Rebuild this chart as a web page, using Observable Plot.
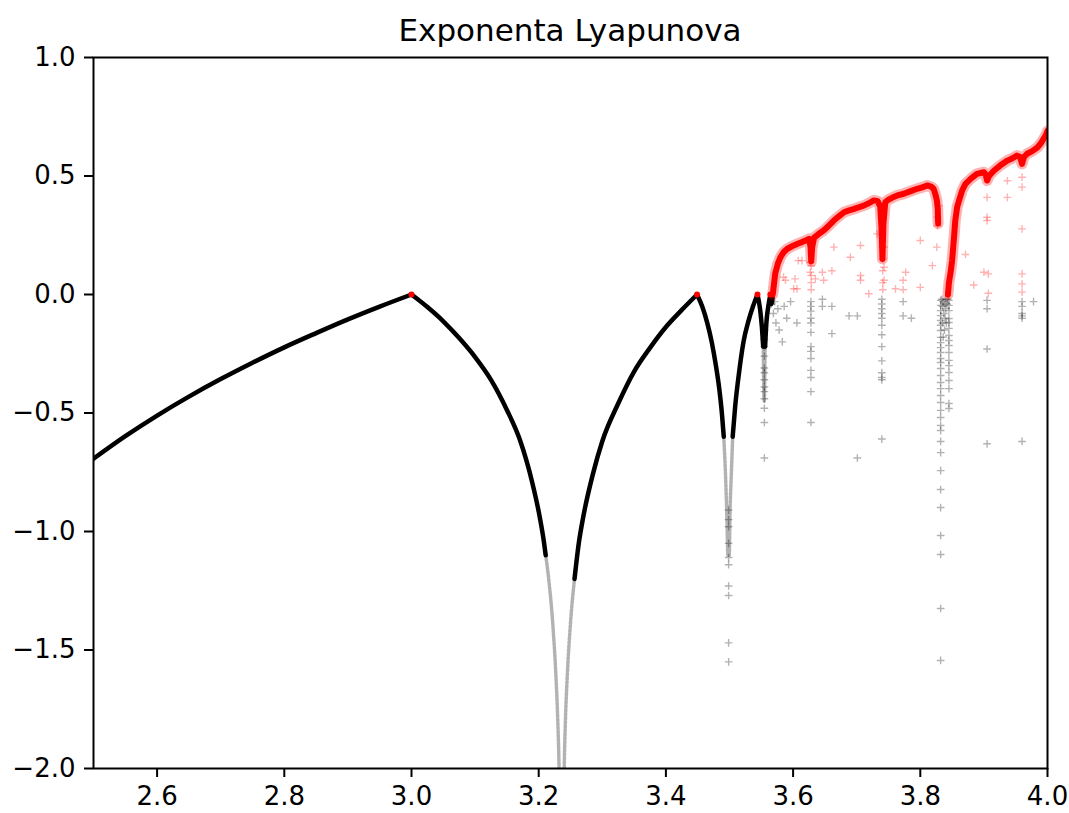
<!DOCTYPE html>
<html><head><meta charset="utf-8">
<script src="https://cdn.jsdelivr.net/npm/d3@7"></script>
<script src="https://cdn.jsdelivr.net/npm/@observablehq/plot@0.6"></script>
<style>
body{margin:0;background:#fff;}
#title{box-sizing:border-box;width:954px;margin-left:93px;height:45px;padding-top:12px;line-height:36px;text-align:center;font-family:"DejaVu Sans",sans-serif;font-size:31px;color:#000;white-space:nowrap;}
#chart svg g[aria-label*="tick"] path, #chart svg g.tick line{stroke-width:2px;}
</style></head><body>
<div id="title">Exponenta Lyapunova</div>
<div id="chart"></div>
<script>
// Tick values
const xTicks = [2.6, 2.8, 3.0, 3.2, 3.4, 3.6, 3.8, 4.0];
const yTicks = [-2.0, -1.5, -1.0, -0.5, 0.0, 0.5, 1.0];

// Densely sampled (dark) parts of the exponent curve; null = gap
const solidR = [2.5,2.55,2.6,2.65,2.7,2.75,2.8,2.85,2.9,2.95,3.0,null,
  3.0,3.025,3.05,3.075,3.1,3.125,3.15,3.17,3.19,3.2,3.208,3.211,null,
  3.2563,3.263,3.27,3.285,3.3,3.325,3.35,3.375,3.4,3.425,3.449,null,
  3.449,3.457,3.465,3.472,3.478,3.484,3.488,3.491,null,
  3.505,3.509,3.515,3.522,3.530,3.537,3.544,null,3.544,3.548,3.551,3.553,null,
  3.556,3.558,3.561,3.5644,null,3.5644,3.566,3.568];
const solidL = [-0.693,-0.598,-0.511,-0.431,-0.357,-0.288,-0.223,-0.163,-0.105,-0.051,0,null,
  0,-0.053,-0.113,-0.184,-0.264,-0.36,-0.487,-0.61,-0.795,-0.916,-1.04,-1.1,null,
  -1.2,-1.05,-0.939,-0.76,-0.619,-0.46,-0.325,-0.225,-0.137,-0.065,0,null,
  0,-0.05,-0.12,-0.2,-0.29,-0.4,-0.5,-0.6,null,
  -0.6,-0.47,-0.33,-0.2,-0.11,-0.05,0,null,0,-0.06,-0.14,-0.22,null,
  -0.22,-0.12,-0.05,0,null,0,-0.04,0];

// Sparsely sampled (light) parts near the super-stable dips
const sparseR = [3.211,3.2157,3.2224,3.2269,3.2300,3.2320,3.2335,null,3.2385,3.2401,3.2420,3.2451,3.2496,3.2563,null,
  3.491,3.494,3.496,3.4975,3.4995,3.501,3.503,3.505,null,3.553,3.5546,3.556];
const sparseL = [-1.1,-1.2,-1.4,-1.6,-1.8,-2.0,-2.3,null,-2.3,-2.0,-1.8,-1.6,-1.4,-1.2,null,
  -0.6,-0.78,-0.95,-1.1,-1.1,-0.9,-0.75,-0.6,null,-0.22,-0.45,-0.22];

// Positive exponent band (chaotic region); null = period-3 window gap
const bandR = [3.568,3.572,3.576,3.580,3.585,3.591,3.601,3.608,3.614,3.620,3.625,3.6275,3.6285,3.630,3.633,3.640,3.648,3.656,3.664,3.672,3.680,3.688,3.695,3.703,3.711,3.719,3.727,3.733,3.737,3.739,3.7405,3.742,3.745,3.750,3.757,3.764,3.774,3.785,3.795,3.803,3.811,3.817,3.821,3.824,3.826,3.8275,3.828,null,
  3.8435,3.845,3.848,3.850,3.853,3.855,3.858,3.861,3.866,3.871,3.880,3.889,3.900,3.903,3.905,3.908,3.916,3.926,3.937,3.945,3.952,3.957,3.960,3.963,3.968,3.976,3.984,3.990,3.997,4.0];
const bandL = [0,0.09,0.13,0.157,0.178,0.193,0.207,0.215,0.221,0.228,0.235,0.2,0.14,0.2,0.24,0.255,0.27,0.29,0.312,0.33,0.347,0.355,0.36,0.368,0.375,0.385,0.397,0.394,0.37,0.28,0.15,0.3,0.39,0.4,0.41,0.418,0.425,0.436,0.446,0.452,0.46,0.455,0.446,0.42,0.397,0.36,0.3,null,
  0,0.05,0.1,0.143,0.24,0.312,0.37,0.397,0.44,0.467,0.49,0.509,0.516,0.505,0.481,0.5,0.523,0.545,0.565,0.575,0.586,0.58,0.551,0.58,0.594,0.605,0.62,0.64,0.67,0.69];

// Red points at the bifurcation peaks
const peakR = [3.0, 3.449, 3.544, 3.5644];
const peakL = [0, 0, 0, 0];

// Columns of scattered negative points inside periodic windows
const colR = [3.4986, 3.5548, 3.628, 3.7395, 3.832, 3.845];
const colL = [
  [-0.91,-0.95,-0.98,-1.05,-1.11,-1.14,-1.23,-1.27,-1.47,-1.55],
  [-0.15,-0.19,-0.22,-0.26,-0.31,-0.33,-0.36,-0.39,-0.41,-0.44,-0.48,-0.54,-0.69],
  [-0.03,-0.05,-0.07,-0.10,-0.12,-0.16,-0.22,-0.24,-0.27,-0.32,-0.35,-0.41,-0.54],
  [-0.02,-0.04,-0.06,-0.08,-0.10,-0.13,-0.17,-0.22,-0.28,-0.33,-0.35,-0.36,-0.61],
  [-0.025,-0.046,-0.068,-0.089,-0.11,-0.13,-0.152,-0.181,-0.203,-0.224,-0.245,-0.27,-0.287,-0.312,-0.342,-0.371,-0.397,-0.426,-0.456,-0.489,-0.519,-0.553,-0.574,-0.62,-0.667,-0.743,-0.823,-0.899,-1.017,-1.097,-1.325,-1.544],
  [-0.025,-0.046,-0.068,-0.101,-0.118,-0.143,-0.173,-0.194,-0.215,-0.245,-0.278,-0.3,-0.329,-0.363,-0.397,-0.46,-0.481]
];

// Other scattered negative points
const grayR = [3.566,3.569,3.571,3.573,3.576,3.578,3.583,3.586,3.59,3.596,3.606,
  3.646,3.646,3.661,3.661,3.688,3.701,3.701,3.773,3.773,3.786,
  3.834,3.835,3.836,3.837,3.838,3.839,3.840,3.841,3.838,3.836,3.835,3.840,3.842,3.843,
  3.905,3.905,3.905,3.905,3.960,3.960,3.960,3.960,3.960,3.960,3.978];
const grayL = [-0.04,-0.08,-0.03,-0.12,-0.06,-0.15,-0.2,-0.05,-0.1,-0.03,-0.12,
  -0.02,-0.05,-0.05,-0.165,-0.09,-0.09,-0.69,-0.03,-0.09,-0.10,
  -0.02,-0.05,-0.03,-0.08,-0.04,-0.1,-0.06,-0.12,-0.15,-0.18,-0.12,-0.02,-0.04,-0.02,
  -0.025,-0.06,-0.23,-0.63,-0.03,-0.05,-0.08,-0.09,-0.10,-0.62,-0.03];

// Scattered positive points below the band
const redR = [3.585,3.588,3.603,3.606,3.608,3.614,3.601,3.627,3.627,3.635,3.646,3.648,3.664,3.661,3.690,3.706,3.706,3.706,3.719,3.732,3.743,3.743,3.743,3.761,3.773,3.773,3.777,3.800,3.800,3.819,3.826,3.827,3.827,3.829,3.871,3.884,3.900,3.907,3.907,3.905,3.905,3.905,3.937,3.937,3.960,3.960,3.960,3.960,3.960,3.960,3.6285,3.6285,3.6285,3.6285,3.7405,3.7405,3.7405,3.741,3.741,3.741,3.741];
const redL = [0.073,0.06,0.066,0.024,0.143,0.143,0.024,0.136,0.094,0.066,0.094,0.06,0.2,0.1,0.157,0.207,0.08,0.06,0.003,0.256,0.2,0.115,0.06,0.024,0.02,0.06,0.094,0.03,0.228,0.122,0.2,0.29,0.326,0.375,0.169,0.04,0.094,0.087,0.005,0.312,0.326,0.41,0.48,0.41,0.495,0.453,0.277,0.087,0.045,0.01,0.12,0.08,0.05,0.02,0.3,0.25,0.2,0.15,0.1,0.05,0.02];

const rows = (R, L) => R.map((r, i) => ({r, l: L[i]}));
const solid = rows(solidR, solidL);
const sparse = rows(sparseR, sparseL);
const band = rows(bandR, bandL);
const peaks = rows(peakR, peakL);
const gray = rows(grayR, grayL).concat(colR.flatMap((r, i) => colL[i].map(l => ({r, l}))));
const red = rows(redR, redL);

const fmt = d3.format(".1f");
const chart = Plot.plot({
  width: 1069, height: 768,
  marginTop: 12, marginBottom: 45, marginLeft: 93, marginRight: 22,
  style: {fontFamily: '"DejaVu Sans", sans-serif', fontSize: "26px", color: "#000", background: "#fff", overflow: "visible"},
  x: {domain: [2.5, 4], ticks: xTicks, tickFormat: fmt, tickSize: 9, tickPadding: 9, label: null},
  y: {domain: [-2, 1], ticks: yTicks, tickFormat: fmt, tickSize: 9, tickPadding: 9, label: null},
  marks: [
    Plot.line(sparse, {x: "r", y: "l", curve: "monotone-x", stroke: "#000", strokeOpacity: 0.3, strokeWidth: 3.5, strokeDasharray: "2.5 1.5", clip: true}),
    Plot.line(solid, {x: "r", y: "l", curve: "monotone-x", stroke: "#000", strokeWidth: 4.5, clip: true}),
    Plot.dot(gray, {x: "r", y: "l", symbol: "plus", r: 2.6, fill: "none", stroke: "#000", strokeOpacity: 0.3, strokeWidth: 1.4, clip: true}),
    Plot.dot(peaks, {x: "r", y: "l", r: 3, fill: "red", stroke: "none"}),
    Plot.line(band, {x: "r", y: "l", stroke: "red", strokeOpacity: 0.3, strokeWidth: 11, clip: true}),
    Plot.line(band, {x: "r", y: "l", stroke: "red", strokeWidth: 6, clip: true}),
    Plot.dot(red, {x: "r", y: "l", symbol: "plus", r: 2.6, fill: "none", stroke: "red", strokeOpacity: 0.3, strokeWidth: 1.4, clip: true}),
    Plot.frame({stroke: "#000", strokeWidth: 2})
  ]
});
document.getElementById("chart").appendChild(chart);
</script>
</body></html>
